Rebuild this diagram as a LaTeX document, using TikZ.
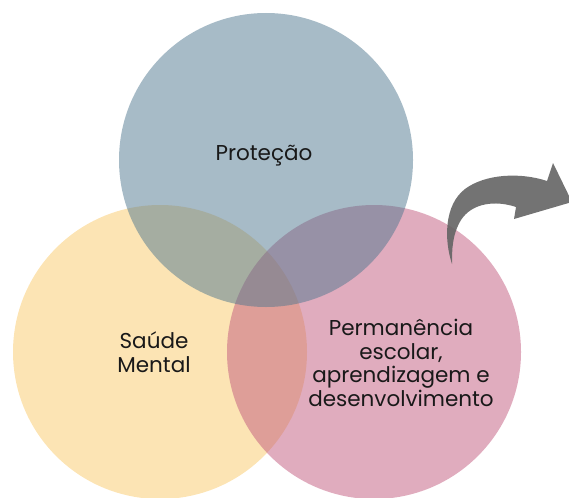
\documentclass[tikz,border=0pt]{standalone}
\usepackage{fontspec}
\setmainfont{Poppins}
\usepackage{tikz}
\usetikzlibrary{positioning}

\definecolor{protblue}{RGB}{79,119,143}
\definecolor{saudeyellow}{RGB}{249,201,105}
\definecolor{permpink}{RGB}{193,89,125}
\definecolor{arrowgray}{RGB}{100,100,100}

\begin{document}
\begin{tikzpicture}[x=1pt,y=-1pt,
    set node/.style={circle,minimum size=294pt,inner sep=0pt,fill opacity=0.5,text opacity=1},
    label node/.style={align=center,font=\fontsize{21.5}{23.5}\selectfont,text=black!90}]
   \useasboundingbox (0,0) rectangle (569,497);
   % the three sets
   \node[set node,fill=saudeyellow] (saude) at (160,352) {};
   \node[set node,fill=permpink] (perm) at (374,352) {};
   \node[set node,fill=protblue] (prot) at (266,160) {};
   % labels
   \node[label node] (protlab) at (264,156) {Proteção};
   \node[label node] (saudelab) at (154,352) {Saúde\\Mental};
   \node[label node] (permlab) at (401,363) {Permanência\\escolar,\\aprendizagem e\\desenvolvimento};
   % curved arrow
   \fill[arrowgray,fill opacity=0.9] (452,264) .. controls (444,240) and (444,205) .. (465,189)
      .. controls (485,174) and (520,172) .. (547,181)
      -- (553,163) -- (572,202) -- (514,219) -- (516,207)
      .. controls (495,200) and (472,203) .. (461,220)
      .. controls (452,235) and (452,250) .. (452,264) -- cycle;
\end{tikzpicture}
\end{document}
